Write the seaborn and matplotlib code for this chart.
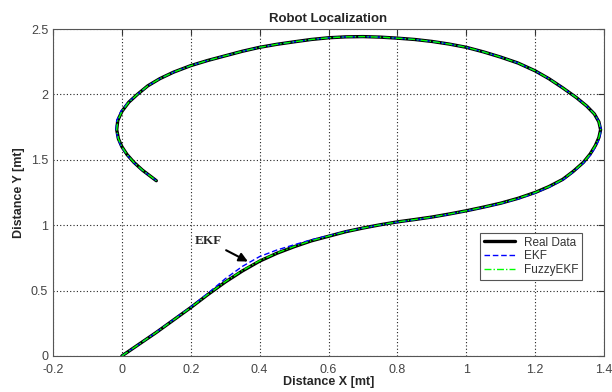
import numpy as np
import pandas as pd
import matplotlib
matplotlib.use("Agg")
import matplotlib.pyplot as plt
import seaborn as sns

# =========================
# Trajectory data
# =========================
real_x = [0.0, 0.05, 0.1, 0.15, 0.2, 0.25, 0.3, 0.35, 0.4, 0.45,
          0.5, 0.55, 0.6, 0.65, 0.7, 0.75, 0.8, 0.85, 0.9, 0.95,
          1.0, 1.05, 1.1, 1.15, 1.2, 1.24, 1.28, 1.31, 1.34, 1.36,
          1.375, 1.385, 1.39, 1.385, 1.372, 1.35, 1.32, 1.28, 1.24, 1.2,
          1.15, 1.1, 1.05, 1.0, 0.95, 0.9, 0.85, 0.8, 0.75, 0.7,
          0.65, 0.6, 0.55, 0.5, 0.45, 0.4, 0.35, 0.3, 0.25, 0.2,
          0.15, 0.11, 0.075, 0.045, 0.02, 0.0, -0.012, -0.015, -0.01, 0.0,
          0.015, 0.035, 0.06, 0.08, 0.1]
real_y = [0.0, 0.09, 0.18, 0.275, 0.37, 0.47, 0.565, 0.65, 0.725, 0.785,
          0.835, 0.88, 0.915, 0.95, 0.978, 1.003, 1.025, 1.043, 1.062, 1.085,
          1.11, 1.138, 1.168, 1.205, 1.25, 1.295, 1.35, 1.41, 1.48, 1.545,
          1.61, 1.67, 1.73, 1.79, 1.85, 1.91, 1.975, 2.05, 2.12, 2.18,
          2.24, 2.285, 2.325, 2.36, 2.385, 2.405, 2.42, 2.43, 2.438, 2.442,
          2.44, 2.433, 2.42, 2.402, 2.383, 2.36, 2.33, 2.295, 2.26, 2.22,
          2.17, 2.12, 2.065, 2.0, 1.94, 1.87, 1.8, 1.73, 1.66, 1.6,
          1.54, 1.48, 1.42, 1.38, 1.34]

ekf_x = [0.0, 0.05, 0.1, 0.15, 0.2, 0.25, 0.3, 0.35, 0.4, 0.45,
         0.5, 0.55, 0.6, 0.65, 0.7, 0.75, 0.8, 0.85, 0.9, 0.95,
         1.0, 1.05, 1.1, 1.15, 1.2, 1.24, 1.28, 1.31, 1.34, 1.362,
         1.377, 1.387, 1.392, 1.386, 1.372, 1.35, 1.32, 1.28, 1.24, 1.2,
         1.15, 1.1, 1.05, 1.0, 0.95, 0.9, 0.85, 0.8, 0.75, 0.7,
         0.65, 0.6, 0.55, 0.5, 0.45, 0.4, 0.35, 0.3, 0.25, 0.2,
         0.15, 0.11, 0.075, 0.045, 0.018, -0.003, -0.015, -0.017, -0.012, -0.002,
         0.014, 0.034, 0.059, 0.08, 0.1]
ekf_y = [0.0, 0.09, 0.182, 0.278, 0.375, 0.48, 0.59, 0.685, 0.76, 0.81,
         0.85, 0.888, 0.92, 0.952, 0.978, 1.002, 1.023, 1.041, 1.06, 1.083,
         1.108, 1.135, 1.165, 1.2, 1.245, 1.29, 1.345, 1.405, 1.475, 1.54,
         1.605, 1.665, 1.73, 1.79, 1.85, 1.91, 1.975, 2.05, 2.12, 2.18,
         2.24, 2.285, 2.325, 2.36, 2.385, 2.405, 2.42, 2.43, 2.438, 2.442,
         2.44, 2.433, 2.42, 2.402, 2.383, 2.36, 2.33, 2.295, 2.26, 2.22,
         2.17, 2.12, 2.065, 2.0, 1.94, 1.87, 1.8, 1.73, 1.66, 1.6,
         1.54, 1.48, 1.42, 1.38, 1.34]

fuzzy_x = real_x
fuzzy_y = [0.0, 0.09, 0.18, 0.275, 0.37, 0.471, 0.567, 0.653, 0.728, 0.787,
           0.837, 0.881, 0.916, 0.95, 0.978, 1.003, 1.025, 1.043, 1.062, 1.085,
           1.11, 1.138, 1.168, 1.205, 1.25, 1.295, 1.35, 1.41, 1.48, 1.545,
           1.61, 1.67, 1.73, 1.79, 1.85, 1.91, 1.975, 2.05, 2.12, 2.18,
           2.24, 2.285, 2.325, 2.36, 2.385, 2.405, 2.42, 2.43, 2.438, 2.442,
           2.44, 2.433, 2.42, 2.402, 2.383, 2.36, 2.33, 2.295, 2.26, 2.22,
           2.17, 2.12, 2.065, 2.0, 1.94, 1.87, 1.8, 1.73, 1.66, 1.6,
           1.54, 1.48, 1.42, 1.38, 1.34]

x_ticks = [-0.2, 0, 0.2, 0.4, 0.6, 0.8, 1, 1.2, 1.4]
x_tick_labels = ["-0.2", "0", "0.2", "0.4", "0.6", "0.8", "1", "1.2", "1.4"]
y_ticks = [0, 0.5, 1, 1.5, 2, 2.5]
y_tick_labels = ["0", "0.5", "1", "1.5", "2", "2.5"]

# =========================
# Plot
# =========================
sns.set_style("white")
plt.rcParams['font.family'] = ['Liberation Sans', 'DejaVu Sans']

fig = plt.figure(figsize=(6.12, 3.92), dpi=100)
ax = fig.add_axes([0.0866, 0.092, 0.9004, 0.834])

sns.lineplot(x=real_x, y=real_y, sort=False, estimator=None, ax=ax,
             color='black', linewidth=2.4, label='Real Data',
             solid_joinstyle='round', solid_capstyle='round')
sns.lineplot(x=ekf_x, y=ekf_y, sort=False, estimator=None, ax=ax,
             color='#0000ff', linewidth=1.0, linestyle=(0, (4, 2)), label='EKF')
sns.lineplot(x=fuzzy_x, y=fuzzy_y, sort=False, estimator=None, ax=ax,
             color='#00ff00', linewidth=1.0, linestyle=(0, (5, 1.5, 1, 1.5)),
             label='FuzzyEKF')

ax.set_xlim(-0.2, 1.4)
ax.set_ylim(0, 2.5)
ax.set_xticks(x_ticks)
ax.set_xticklabels(x_tick_labels)
ax.set_yticks(y_ticks)
ax.set_yticklabels(y_tick_labels)
ax.tick_params(direction='in', length=4, top=True, right=True,
               labelsize=9, colors='#333333', labelcolor='#444444')
ax.tick_params(axis='x', pad=6)

ax.grid(True, color='#222222', linestyle=(0, (1, 2)), linewidth=0.8)
for s in ax.spines.values():
    s.set_color('#555555')
    s.set_linewidth(0.8)

ax.set_title('Robot Localization', fontsize=9.5, fontweight='bold', pad=5)
ax.set_xlabel('Distance X [mt]', fontsize=9, fontweight='bold', labelpad=0)
ax.set_ylabel('Distance Y [mt]', fontsize=9, fontweight='bold', labelpad=4)

ax.annotate('EKF', xy=(0.366, 0.722), xytext=(0.25, 0.88),
            fontsize=9.5, fontweight='bold', family='Liberation Serif',
            ha='center', va='center',
            arrowprops=dict(arrowstyle='-|>', color='black', lw=1.5,
                            mutation_scale=13, shrinkA=1, shrinkB=0))

leg = ax.legend(loc='upper right', bbox_to_anchor=(0.96, 0.376), fontsize=8.5,
                fancybox=False, framealpha=1, edgecolor='#555555',
                handlelength=2.6, borderpad=0.3, labelspacing=0.15,
                handletextpad=0.8, borderaxespad=0)
leg.get_frame().set_linewidth(0.8)
for t in leg.get_texts():
    t.set_color('#333333')

plt.savefig('out.png', dpi=100)
